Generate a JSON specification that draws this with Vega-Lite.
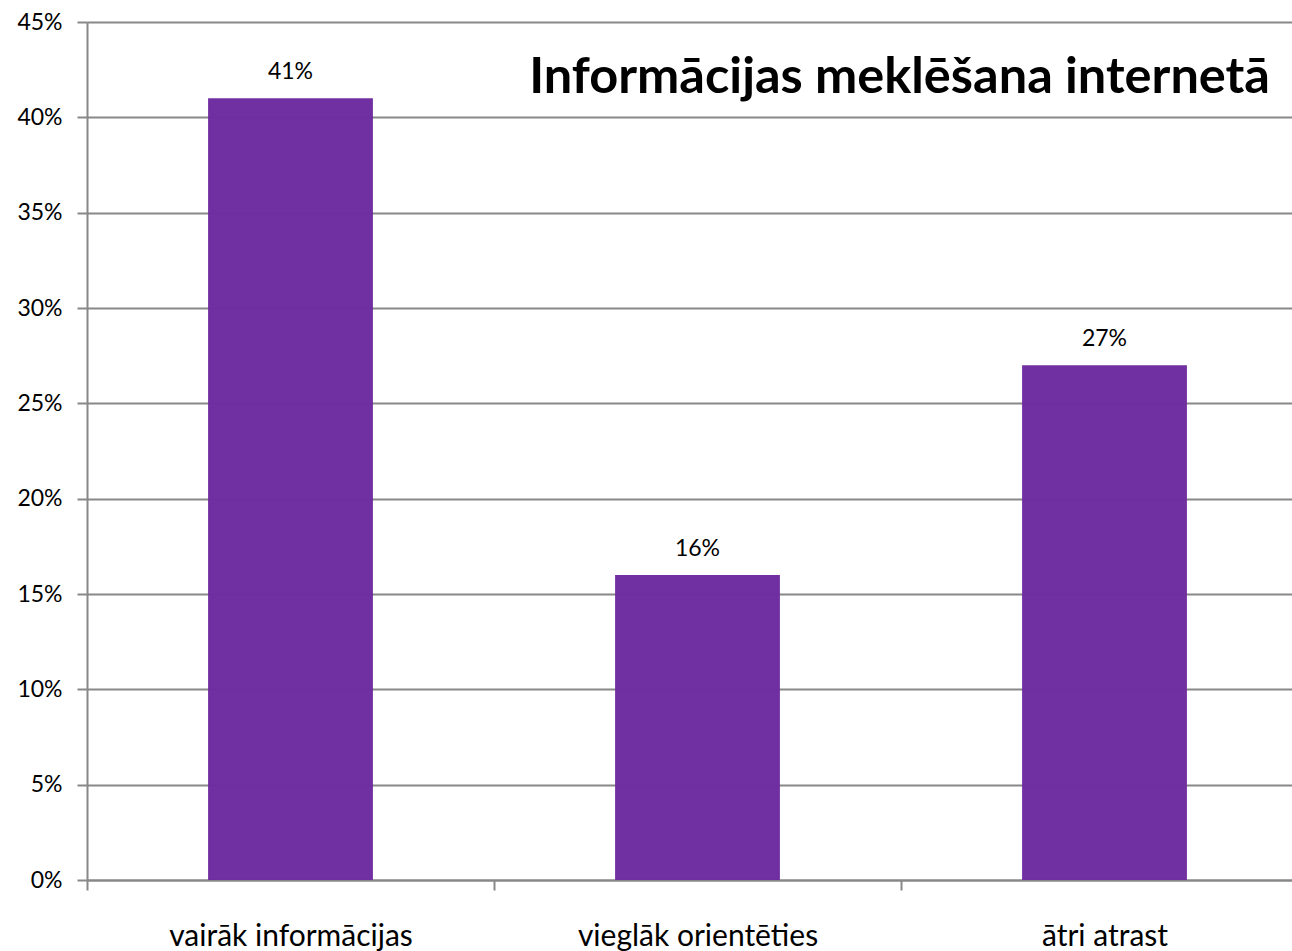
{
  "$schema": "https://vega.github.io/schema/vega-lite/v6.json",
  "autosize": {"type": "none"},
  "width": 1205,
  "height": 858,
  "padding": {"left": 87, "top": 22, "right": 0, "bottom": 71},
  "background": "white",
  "config": {
    "view": {"stroke": null},
    "axis": {
      "labelFont": "Lato",
      "labelColor": "#000000",
      "domainColor": "#888888",
      "domainWidth": 2,
      "tickColor": "#888888",
      "tickWidth": 2,
      "tickSize": 10,
      "gridColor": "#888888",
      "gridWidth": 2
    }
  },
  "layer": [
    {
      "data": {
        "values": [
          {"kategorija": "vairāk informācijas", "vertiba": 0.41},
          {"kategorija": "vieglāk orientēties", "vertiba": 0.16},
          {"kategorija": "ātri atrast", "vertiba": 0.27}
        ]
      },
      "encoding": {
        "x": {
          "field": "kategorija",
          "type": "nominal",
          "sort": null,
          "scale": {"range": [0, 1221], "paddingInner": 0, "paddingOuter": 0},
          "axis": {
            "title": null,
            "labelAngle": 0,
            "labelFontSize": 30,
            "labelPadding": 31,
            "labelLimit": 0,
            "tickBand": "extent",
            "grid": false
          }
        },
        "y": {
          "field": "vertiba",
          "type": "quantitative",
          "scale": {"domain": [0, 0.45], "nice": false},
          "axis": {
            "title": null,
            "format": ".0%",
            "values": [0, 0.05, 0.1, 0.15, 0.2, 0.25, 0.3, 0.35, 0.4, 0.45],
            "labelFontSize": 23,
            "labelPadding": 15,
            "grid": true,
            "domain": true
          }
        }
      },
      "layer": [
        {
          "mark": {"type": "bar", "color": "#6E2C9F", "opacity": 0.98, "width": {"band": 0.405}}
        },
        {
          "mark": {"type": "text", "font": "Lato", "fontSize": 23, "color": "#000000", "baseline": "alphabetic", "dy": -19},
          "encoding": {
            "text": {"field": "vertiba", "type": "quantitative", "format": ".0%"}
          }
        }
      ]
    },
    {
      "data": {"values": [{"virsraksts": "Informācijas meklēšana internetā", "kategorija": "ātri atrast", "vertiba": 0.45}]},
      "mark": {"type": "text", "font": "Lato", "fontSize": 50.5, "fontWeight": "bold", "color": "#000000", "align": "right", "baseline": "alphabetic", "dx": -38, "dy": 71},
      "encoding": {
        "x": {"field": "kategorija", "type": "nominal", "bandPosition": 1},
        "y": {"field": "vertiba", "type": "quantitative"},
        "text": {"field": "virsraksts", "type": "nominal"}
      }
    }
  ]
}
